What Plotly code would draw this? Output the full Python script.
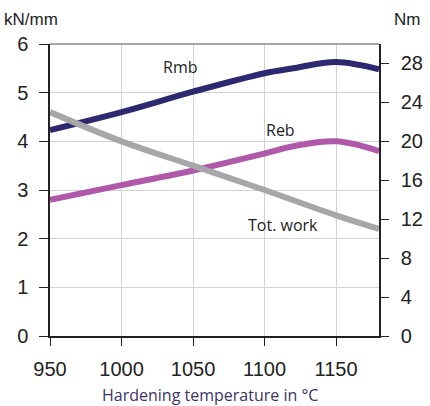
import plotly.graph_objects as go

temps = [950, 1000, 1050, 1100, 1120, 1150, 1180]
rmb = [4.23, 4.6, 5.02, 5.4, 5.5, 5.63, 5.48]
reb = [2.8, 3.1, 3.4, 3.75, 3.9, 4.0, 3.8]
work_t = [950, 1000, 1050, 1100, 1150, 1180]
work = [23.0, 20.0, 17.5, 15.0, 12.4, 11.0]

left_ticks = [0, 1, 2, 3, 4, 5, 6]
right_ticks = [0, 4, 8, 12, 16, 20, 24, 28]
x_ticks = [950, 1000, 1050, 1100, 1150]

fig = go.Figure()
fig.add_trace(go.Scatter(x=temps, y=rmb, mode="lines", line=dict(color="#2d2870", width=6, shape="spline"), name="Rmb"))
fig.add_trace(go.Scatter(x=temps, y=reb, mode="lines", line=dict(color="#b058aa", width=6, shape="spline"), name="Reb"))
fig.add_trace(go.Scatter(x=work_t, y=work, mode="lines", line=dict(color="#a7a7a9", width=6, shape="spline"), name="Tot. work", yaxis="y2"))

tickfont = dict(family="Liberation Sans", size=20, color="#222222")
fig.update_layout(
    width=430, height=406,
    margin=dict(l=50, r=51, t=44, b=70, autoexpand=False),
    plot_bgcolor="white", paper_bgcolor="white",
    showlegend=False,
    xaxis=dict(range=[950, 1180], tickvals=x_ticks, ticks="outside", ticklen=8, tickcolor="#222",
               showline=True, linecolor="#222", linewidth=1.5, showgrid=True, gridcolor="#d2d2d2",
               tickfont=tickfont, zeroline=False, ticklabelstandoff=6, automargin=False),
    yaxis=dict(range=[0, 6], tickvals=left_ticks, ticks="outside", ticklen=9, tickcolor="#222",
               showline=True, linecolor="#222", linewidth=1.5, showgrid=True, gridcolor="#d2d2d2",
               tickfont=tickfont, zeroline=False, ticklabelstandoff=7, automargin=False),
    yaxis2=dict(range=[0, 30], tickvals=right_ticks, overlaying="y", side="right", ticks="outside",
                ticklen=8, tickcolor="#222", showline=True, linecolor="#222", linewidth=1.5,
                showgrid=False, tickfont=tickfont, zeroline=False, ticklabelstandoff=8, automargin=False),
)
fig.add_shape(type="line", xref="paper", yref="paper", x0=0, x1=1, y0=1, y1=1, line=dict(color="#888", width=1.5))

lab = dict(family="Open Sans", size=16, color="#222")
fig.add_annotation(x=1041, y=5.52, text="Rmb", showarrow=False, font=lab)
fig.add_annotation(x=1111, y=4.23, text="Reb", showarrow=False, font=lab)
fig.add_annotation(x=1113, y=2.28, text="Tot. work", showarrow=False, font=lab)

hdr = dict(family="Liberation Sans", size=17, color="#222")
fig.add_annotation(xref="paper", yref="paper", x=-0.058, y=1.0, yshift=25, text="kN/mm", showarrow=False, font=hdr, xanchor="center", yanchor="middle")
fig.add_annotation(xref="paper", yref="paper", x=1.085, y=1.0, yshift=25, text="Nm", showarrow=False, font=hdr, xanchor="center", yanchor="middle")
fig.add_annotation(xref="paper", yref="paper", x=0.486, y=0, yshift=-59, text="Hardening temperature in °C", showarrow=False,
                   font=dict(family="Open Sans", size=16, color="#3d3366"), xanchor="center", yanchor="middle")

fig.write_html("out.html", config={"displayModeBar": False})
with open("out.html", encoding="utf-8") as f:
    html = f.read()
html = html.replace("<head>", "<head><style>html,body{margin:0;padding:0;overflow:hidden}</style>", 1)
with open("out.html", "w", encoding="utf-8") as f:
    f.write(html)
